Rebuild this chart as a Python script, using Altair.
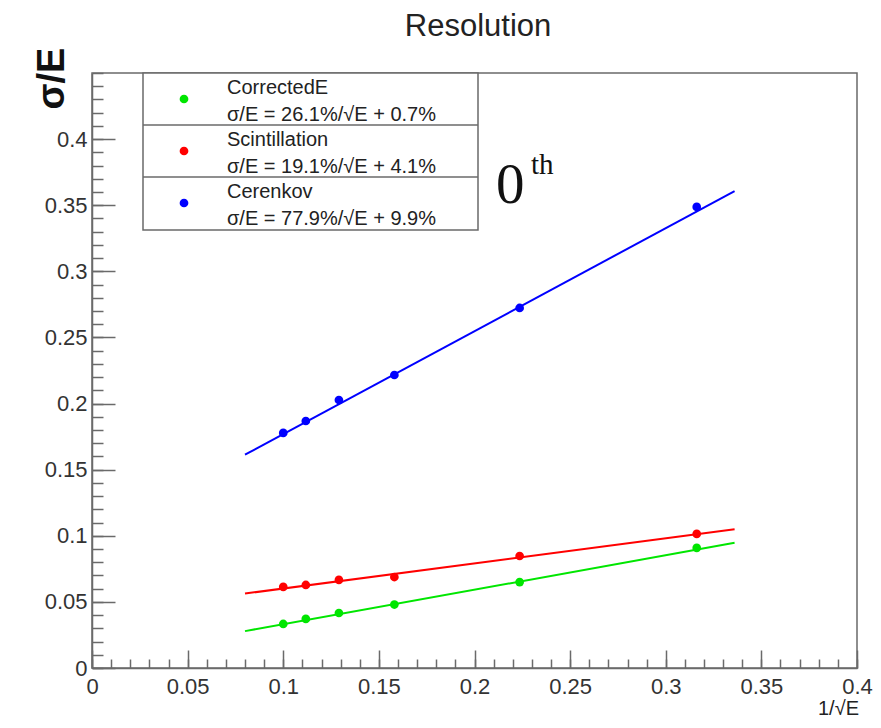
import altair as alt
import pandas as pd

# ---------------- data ----------------
inv_sqrt_e = [0.1, 0.1118, 0.1291, 0.1581, 0.2236, 0.3162]
corrected_e = [0.0333, 0.0371, 0.0416, 0.0480, 0.0650, 0.0908]
scintillation = [0.0613, 0.0628, 0.0666, 0.0688, 0.0847, 0.1014]
cerenkov = [0.1778, 0.1868, 0.2027, 0.2216, 0.2723, 0.3487]

series_names = ["CorrectedE", "Scintillation", "Cerenkov"]
series_colors = ["#00e600", "#ff0000", "#0000ff"]
fit_labels = ["σ/E = 26.1%/√E + 0.7%", "σ/E = 19.1%/√E + 4.1%", "σ/E = 77.9%/√E + 9.9%"]

fit_x = [0.08, 0.336]
fit_corrected_e = [0.0279, 0.0947]
fit_scintillation = [0.0563, 0.1050]
fit_cerenkov = [0.1613, 0.3607]

x_major_ticks = [0, 0.05, 0.1, 0.15, 0.2, 0.25, 0.3, 0.35, 0.4]
y_major_ticks = [0, 0.05, 0.1, 0.15, 0.2, 0.25, 0.3, 0.35, 0.4]
x_minor_ticks = [round(0.01 * i, 2) for i in range(41)]
y_minor_ticks = [round(0.01 * i, 2) for i in range(46)]

title_text = "Resolution"
x_title = "1/√E"
y_title = "σ/E"
note_main = "0"
note_sup = "th"

# ---------------- tables ----------------
series_values = [corrected_e, scintillation, cerenkov]
fit_values = [fit_corrected_e, fit_scintillation, fit_cerenkov]

pts = pd.DataFrame(
    [{"x": x, "y": y, "series": n} for n, ys_ in zip(series_names, series_values) for x, y in zip(inv_sqrt_e, ys_)]
)
fits = pd.DataFrame(
    [{"x": x, "y": y, "series": n} for n, ys_ in zip(series_names, fit_values) for x, y in zip(fit_x, ys_)]
)
legend_df = pd.DataFrame({"name": series_names, "formula": fit_labels, "color": series_colors})

W, H = 765, 595
AX = "#6a6a6a"
FONT = "Liberation Sans"
xs = alt.Scale(domain=[0, 0.4], nice=False, zero=False)
ys = alt.Scale(domain=[0, 0.45], nice=False, zero=False)
cs = alt.Scale(domain=series_names, range=series_colors)

lines = alt.Chart(fits).mark_line(strokeWidth=2).encode(
    x=alt.X("x:Q", scale=xs, axis=None),
    y=alt.Y("y:Q", scale=ys, axis=None),
    color=alt.Color("series:N", scale=cs, legend=None),
    detail="series:N",
)

points = alt.Chart(pts).mark_circle(size=76, opacity=1).encode(
    x=alt.X(
        "x:Q", scale=xs,
        axis=alt.Axis(
            orient="bottom", values=x_major_ticks, format="~g", ticks=False, tickSize=0,
            domain=True, domainColor=AX, domainWidth=1.5, grid=False,
            labelFontSize=22, labelFont=FONT, labelColor="#333333", labelPadding=8,
            labelFlush=False, labelOverlap=False,
            title=x_title, titleX=746, titleY=40, titleAngle=0, titleAlign="center",
            titleBaseline="middle", titleFontSize=20, titleFontWeight="normal",
            titleFont=FONT, titleColor="#222222",
        ),
    ),
    y=alt.Y(
        "y:Q", scale=ys,
        axis=alt.Axis(
            orient="left", values=y_major_ticks, format="~g", ticks=False, tickSize=0,
            domain=True, domainColor=AX, domainWidth=1.5, grid=False,
            labelFontSize=22, labelFont=FONT, labelColor="#333333", labelPadding=5,
            labelFlush=False, labelOverlap=False,
            title=y_title, titleX=-40, titleY=5, titleAngle=270, titleAlign="center",
            titleBaseline="middle", titleFontSize=38, titleFontWeight="bold",
            titleFont=FONT, titleColor="#111111",
        ),
    ),
    color=alt.Color("series:N", scale=cs, legend=None),
)


def tick_layer(xvals, xsize, yvals, ysize):
    return alt.Chart(pts).mark_circle(opacity=0).encode(
        x=alt.X("x:Q", scale=xs, axis=alt.Axis(
            orient="bottom", values=xvals, ticks=True, tickSize=xsize, offset=-xsize,
            labels=False, domain=False, grid=False, title=None,
            tickColor=AX, tickWidth=1.5)),
        y=alt.Y("y:Q", scale=ys, axis=alt.Axis(
            orient="left", values=yvals, ticks=True, tickSize=ysize, offset=-ysize,
            labels=False, domain=False, grid=False, title=None,
            tickColor=AX, tickWidth=1.5)),
    )


major = tick_layer(x_major_ticks, 18, y_major_ticks, 23)
minor = tick_layer(x_minor_ticks, 9, y_minor_ticks, 11)

one = pd.DataFrame({"t": [title_text]})
title = alt.Chart(one).mark_text(
    font=FONT, fontSize=31, align="center", baseline="alphabetic", color="#222222"
).encode(x=alt.value(386), y=alt.value(-37), text="t:N")

note0 = alt.Chart(pd.DataFrame({"t": [note_main]})).mark_text(
    font="Liberation Serif", fontSize=57, align="left", baseline="alphabetic", color="#111111"
).encode(x=alt.value(404), y=alt.value(130), text="t:N")
note1 = alt.Chart(pd.DataFrame({"t": [note_sup]})).mark_text(
    font="Liberation Serif", fontSize=29, align="left", baseline="alphabetic", color="#111111"
).encode(x=alt.value(439), y=alt.value(101), text="t:N")

# legend box
LX0, LX1 = 51, 386
box = alt.Chart(one).mark_rect(fill="white", stroke=AX, strokeWidth=1.5).encode(
    x=alt.value(LX0), x2=alt.value(LX1), y=alt.value(0), y2=alt.value(157)
)
legend_layers = [box]
for i in range(1, len(series_names)):
    legend_layers.append(
        alt.Chart(one).mark_rule(color=AX, strokeWidth=1.5).encode(
            x=alt.value(LX0), x2=alt.value(LX1), y=alt.value(52 * i), y2=alt.value(52 * i)
        )
    )
for i, row in legend_df.iterrows():
    sub = legend_df.iloc[[i]]
    legend_layers.append(
        alt.Chart(sub).mark_circle(size=76, opacity=1, color=row["color"]).encode(
            x=alt.value(92), y=alt.value(26 + 52 * i)
        )
    )
    legend_layers.append(
        alt.Chart(sub).mark_text(font=FONT, fontSize=20, align="left", baseline="middle", color="#222222")
        .encode(x=alt.value(135), y=alt.value(15 + 52 * i), text="name:N")
    )
    legend_layers.append(
        alt.Chart(sub).mark_text(font=FONT, fontSize=20, align="left", baseline="middle", color="#222222")
        .encode(x=alt.value(135), y=alt.value(42 + 52 * i), text="formula:N")
    )

chart = (
    alt.layer(minor, major, lines, points, title, note0, note1, *legend_layers)
    .resolve_axis(x="independent", y="independent")
    .properties(
        width=W, height=H,
        autosize=alt.AutoSizeParams(type="none"),
        padding={"left": 84, "top": 65, "right": 16, "bottom": 50},
        background="white",
    )
    .configure_view(stroke=AX, strokeWidth=1.5)
)

chart.save("out.html", embed_options={"renderer": "svg", "actions": False})
